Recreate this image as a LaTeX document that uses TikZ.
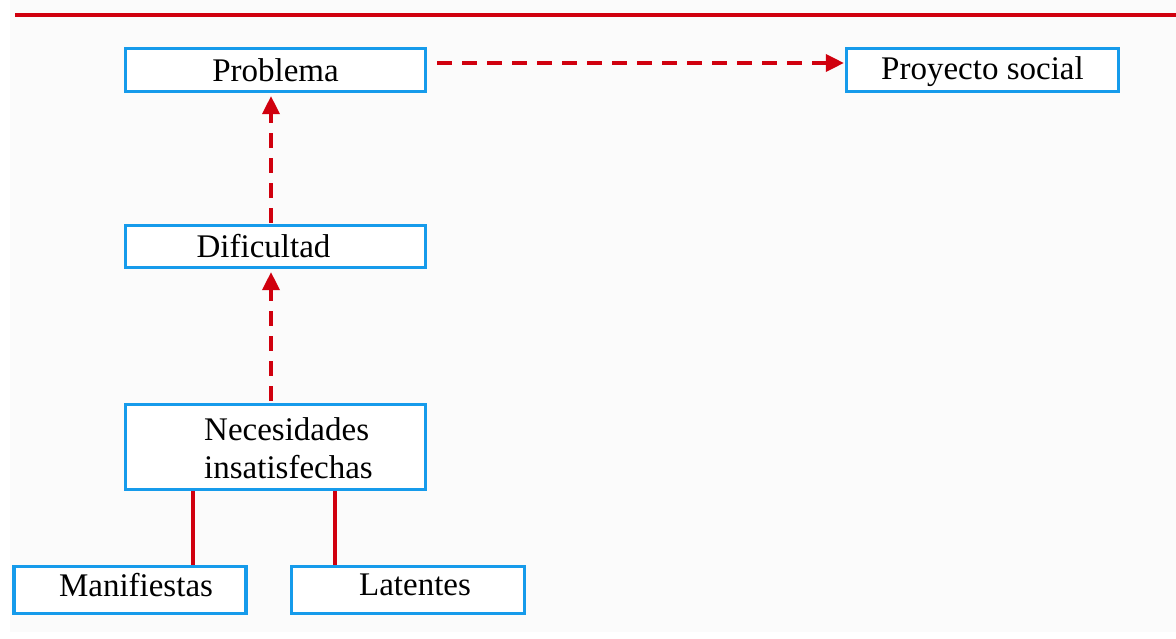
\documentclass[tikz,border=0pt]{standalone}
\usepackage{fontspec}
\setmainfont{Liberation Serif}
\usetikzlibrary{arrows.meta}
\definecolor{boxblue}{RGB}{22,155,235}
\definecolor{linered}{RGB}{208,0,14}
\definecolor{paper}{RGB}{251,251,251}
\tikzset{
  box/.style={draw=boxblue, line width=3.2pt, fill=white, rectangle, inner sep=0pt},
  lbl/.style={font=\fontsize{33}{38}\selectfont, text=black},
  flow/.style={draw=linered, line width=3.5pt, dash pattern=on 15pt off 10pt,
    -{Triangle[length=18pt,width=17pt]}},
  link/.style={draw=linered, line width=3.5pt},
}
\begin{document}
\begin{tikzpicture}[x=1pt,y=-1pt]
  \useasboundingbox (0,0) rectangle (1176,639);
  \fill[white] (0,0) rectangle (1176,639);
  \fill[paper] (10,0) rectangle (1176,632);
  % rule across the top
  \draw[linered, line width=3.5pt] (15,15) -- (1176,15);

  % boxes
  \node[box, minimum width=300pt, minimum height=43pt,
        label={[lbl]center:Problema}] (prob) at (275.5,70) {};
  \node[box, minimum width=272pt, minimum height=43pt,
        label={[lbl, yshift=-2pt]center:Proyecto social}] (proy) at (982.5,70) {};
  \node[box, minimum width=300pt, minimum height=42pt,
        label={[lbl, xshift=-12pt]center:Dificultad}] (dif) at (275.5,246.5) {};
  \node[box, minimum width=300pt, minimum height=85pt,
        label={[lbl, align=left, xshift=13pt, yshift=-1pt]center:Necesidades\\insatisfechas}] (nec) at (275.5,447) {};
  \node[box, minimum width=232pt, minimum height=47pt,
        label={[lbl, xshift=6pt, yshift=5pt]center:Manifiestas}] (man) at (130,590) {};
  \node[box, minimum width=233pt, minimum height=47pt,
        label={[lbl, xshift=7pt, yshift=5pt]center:Latentes}] (lat) at (408,590) {};

  % connectors
  \draw[flow] ([xshift=10pt,yshift=7pt]prob.east) -- ([xshift=-1pt,yshift=7pt]proy.west);
  \draw[flow] ([xshift=-4.5pt,yshift=1pt]dif.north) -- ([xshift=-4.5pt,yshift=-3pt]prob.south);
  \draw[flow] ([xshift=-4.5pt,yshift=2pt]nec.north) -- ([xshift=-4.5pt,yshift=-3pt]dif.south);
  \draw[link] ([xshift=-82.5pt]nec.south) -- ([xshift=63pt]man.north);
  \draw[link] ([xshift=59.5pt]nec.south) -- ([xshift=-73pt]lat.north);
\end{tikzpicture}
\end{document}
